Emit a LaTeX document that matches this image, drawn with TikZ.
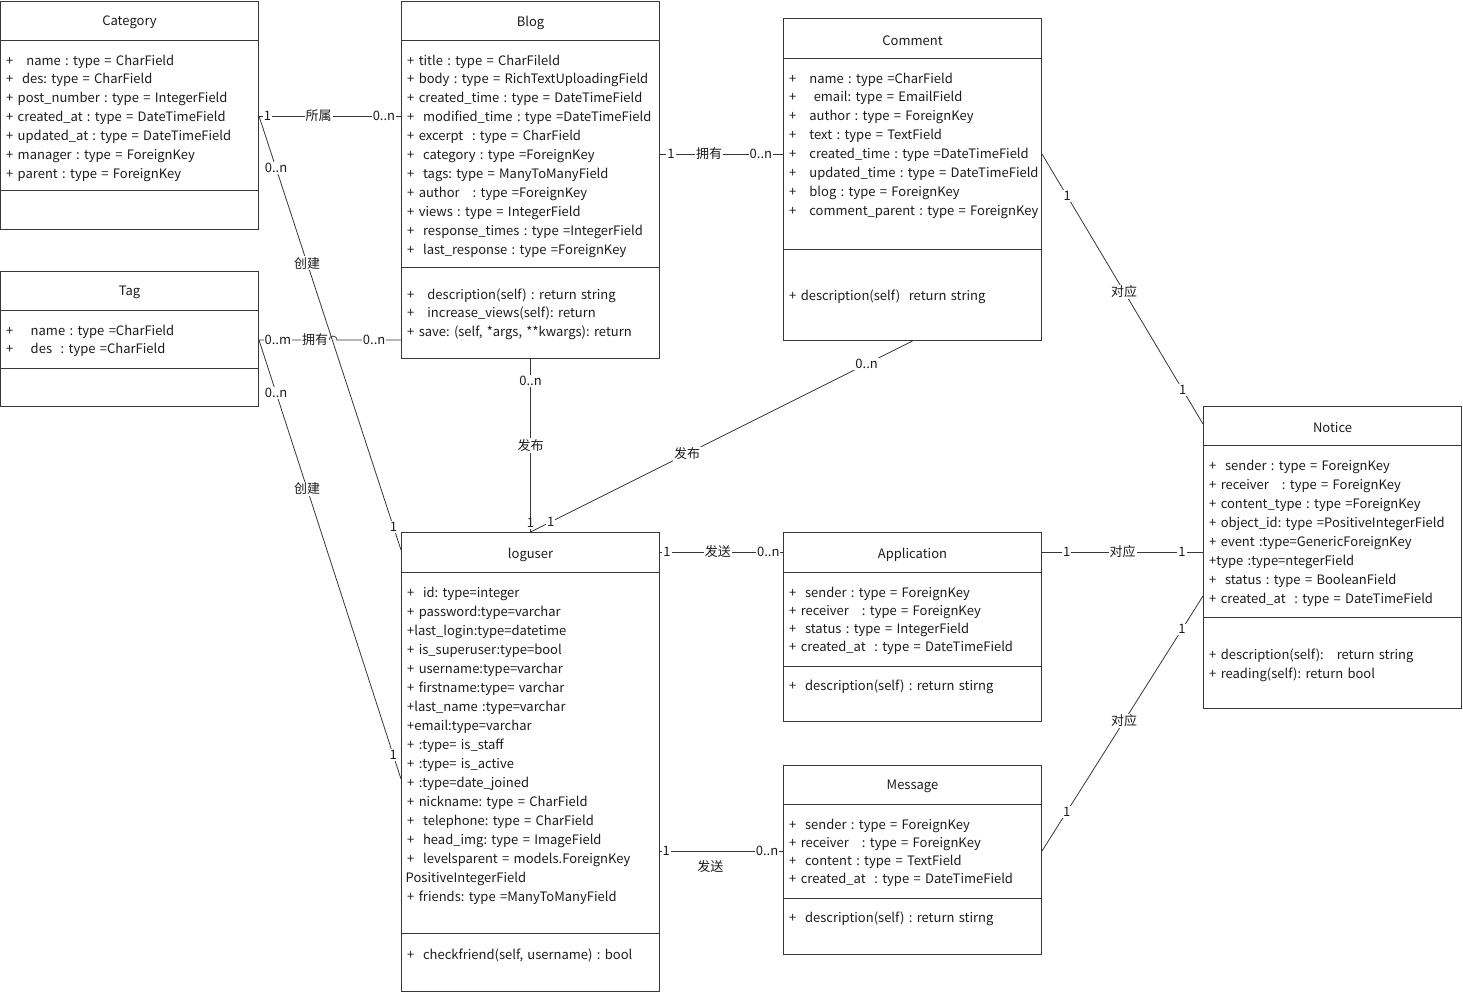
\documentclass[tikz,border=0pt]{standalone}
\usepackage{fontspec}
\setmainfont{Noto Sans CJK SC}
\usetikzlibrary{calc}
\frenchspacing
\definecolor{linegray}{RGB}{55, 55, 55}
\definecolor{textdark}{RGB}{28, 28, 28}
\tikzset{
    classbox/.style={
        draw=linegray,
        line width=1pt,
        minimum width=258pt,
        minimum height=#1,
        anchor=north west,
        inner sep=0pt,
    },
    classname/.style={
        font=\fontsize{13}{15}\selectfont,
        text=textdark,
        yshift=-1.5pt,
    },
    member/.style={
        anchor=base west,
        xshift=6pt,
        align=left,
        text width=300pt,
        inner sep=0pt,
        font=\fontsize{13}{#1}\selectfont,
        text=textdark,
    },
    member/.default=18.9,
    divider/.style={
        draw=linegray,
        line width=1pt,
    },
    rel/.style={
        draw=linegray,
        line width=0.8pt,
    },
    mult/.style={
        fill=white,
        inner sep=1pt,
        font=\fontsize{13}{15}\selectfont,
        text=textdark,
    },
}

\begin{document}
\begin{tikzpicture}[x=1pt, y=-1pt]
\useasboundingbox (0,0) rectangle (1463,993);

% ===== Category =====
\node[classbox=228pt] (cat) at (0,1) {};
\node[classname] (cattitle) at (cat.north |- 0,21) {Category};
\draw[divider] (cat.west |- 0,40) -- (cat.east |- 0,40);
\draw[divider] (cat.west |- 0,190) -- (cat.east |- 0,190);
\node[member] (catattr) at (cat.west |- 0,65) {%
+ \ \ name : type = CharField\\
+ \ des: type = CharField\\
+ post\_number : type = IntegerField\\
+ created\_at : type = DateTimeField\\
+ updated\_at : type = DateTimeField\\
+ manager : type = ForeignKey\\
+ parent : type = ForeignKey};

% ===== Tag =====
\node[classbox=135pt] (tag) at (0,271) {};
\node[classname] (tagtitle) at (tag.north |- 0,291) {Tag};
\draw[divider] (tag.west |- 0,310) -- (tag.east |- 0,310);
\draw[divider] (tag.west |- 0,368) -- (tag.east |- 0,368);
\node[member] (tagattr) at (tag.west |- 0,335) {%
+ \ \ \ name : type =CharField\\
+ \ \ \ des \ : type =CharField};

% ===== Blog =====
\node[classbox=357pt] (blog) at (401,1) {};
\node[classname] (blogtitle) at (blog.north |- 0,21) {Blog};
\draw[divider] (blog.west |- 0,40) -- (blog.east |- 0,40);
\draw[divider] (blog.west |- 0,267) -- (blog.east |- 0,267);
\node[member] (blogattr) at (blog.west |- 0,65) {%
+ title : type = CharFileld\\
+ body : type = RichTextUploadingField\\
+ created\_time : type = DateTimeField\\
+ \ modified\_time : type =DateTimeField\\
+ excerpt \ : type = CharField\\
+ \ category : type =ForeignKey\\
+ \ tags: type = ManyToManyField\\
+ author \ \ : type =ForeignKey\\
+ views : type = IntegerField\\
+ \ response\_times : type =IntegerField\\
+ \ last\_response : type =ForeignKey};
\node[member] (blogop) at (blog.west |- 0,299) {%
+ \ \ description(self) : return string\\
+ \ \ increase\_views(self): return\\
+ save: (self, *args, **kwargs): return};

% ===== Comment =====
\node[classbox=322pt] (com) at (783,18) {};
\node[classname] (comtitle) at (com.north |- 0,39) {Comment};
\draw[divider] (com.west |- 0,58) -- (com.east |- 0,58);
\draw[divider] (com.west |- 0,249) -- (com.east |- 0,249);
\node[member] (comattr) at (com.west |- 0,83) {%
+ \ \ name : type =CharField\\
+ \ \ \ email: type = EmailField\\
+ \ \ author : type = ForeignKey\\
+ \ \ text : type = TextField\\
+ \ \ created\_time : type =DateTimeField\\
+ \ \ updated\_time : type = DateTimeField\\
+ \ \ blog : type = ForeignKey\\
+ \ \ comment\_parent : type = ForeignKey};
\node[member] (comop) at (com.west |- 0,300) {+ description(self) \ return string};

% ===== loguser =====
\node[classbox=459pt] (log) at (401,532) {};
\node[classname] (logtitle) at (log.north |- 0,553) {loguser};
\draw[divider] (log.west |- 0,572) -- (log.east |- 0,572);
\draw[divider] (log.west |- 0,933) -- (log.east |- 0,933);
\node[member=19] (logattr) at (log.west |- 0,597) {%
+ \ id: type=integer\\
+ password:type=varchar\\
+last\_login:type=datetime\\
+ is\_superuser:type=bool\\
+ username:type=varchar\\
+ firstname:type= varchar\\
+last\_name :type=varchar\\
+email:type=varchar\\
+ :type= is\_staff\\
+ :type= is\_active\\
+ :type=date\_joined\\
+ nickname: type = CharField\\
+ \ telephone: type = CharField\\
+ \ head\_img: type = ImageField\\
+ \ levelsparent = models.ForeignKey\\
\hspace*{-1.5pt}PositiveIntegerField\\
+ friends: type =ManyToManyField};
\node[member] (logop) at (log.west |- 0,959) {+ \ checkfriend(self, username) : bool};

% ===== Application =====
\node[classbox=189pt] (app) at (783,532) {};
\node[classname] (apptitle) at (app.north |- 0,553) {Application};
\draw[divider] (app.west |- 0,572) -- (app.east |- 0,572);
\draw[divider] (app.west |- 0,666) -- (app.east |- 0,666);
\node[member=18.3] (appattr) at (app.west |- 0,597) {%
+ \ sender : type = ForeignKey\\
+ receiver \ \ : type = ForeignKey\\
+ \ status : type = IntegerField\\
+ created\_at \ : type = DateTimeField};
\node[member] (appop) at (app.west |- 0,690) {+ \ description(self) : return stirng};

% ===== Message =====
\node[classbox=189pt] (msg) at (783,765) {};
\node[classname] (msgtitle) at (msg.north |- 0,785) {Message};
\draw[divider] (msg.west |- 0,804) -- (msg.east |- 0,804);
\draw[divider] (msg.west |- 0,898) -- (msg.east |- 0,898);
\node[member=18.3] (msgattr) at (msg.west |- 0,829) {%
+ \ sender : type = ForeignKey\\
+ receiver \ \ : type = ForeignKey\\
+ \ content : type = TextField\\
+ created\_at \ : type = DateTimeField};
\node[member] (msgop) at (msg.west |- 0,922) {+ \ description(self) : return stirng};

% ===== Notice =====
\node[classbox=302pt] (note) at (1203,406) {};
\node[classname] (notetitle) at (note.north |- 0,426) {Notice};
\draw[divider] (note.west |- 0,445) -- (note.east |- 0,445);
\draw[divider] (note.west |- 0,617) -- (note.east |- 0,617);
\node[member=19] (noteattr) at (note.west |- 0,470) {%
+ \ sender : type = ForeignKey\\
+ receiver \ \ : type = ForeignKey\\
+ content\_type : type =ForeignKey\\
+ object\_id: type =PositiveIntegerField\\
+ event :type=GenericForeignKey\\
+type :type=ntegerField\\
+ \ status : type = BooleanField\\
+ created\_at \ : type = DateTimeField};
\node[member=19] (noteop) at (note.west |- 0,659) {%
+ description(self): \ \ return string\\
+ reading(self): return bool};

% ===== relations =====
\draw[rel] (cat.east |- 0,116) -- node[mult, pos=.06] {1} node[mult, pos=.42] {所属}
    node[mult, pos=.88] {0..n} (blog.west |- 0,116);
\draw[rel] (cat.east |- 0,116) -- node[mult, pos=.12] {0..n} node[mult, pos=.339] {创建}
    node[mult, pos=.947] {1} (log.west |- 0,550);
\draw[rel] (tag.east |- 0,340) -- node[mult, pos=.27] {0..m} node[mult, pos=.8] {拥有} (329,340)
    arc[start angle=180, end angle=360, radius=4] -- node[mult, pos=.58] {0..n} (blog.west |- 0,340);
\draw[rel] (tag.east |- 0,340) -- node[mult, pos=.121] {0..n} node[mult, pos=.339] {创建}
    node[mult, pos=.945] {1} (log.west |- 0,779);
\draw[rel] (blog.south) -- node[mult, pos=.126] {0..n} node[mult, pos=.5] {发布}
    node[mult, pos=.95] {1} (log.north);
\draw[rel] (com.south) -- node[mult, pos=.12] {0..n} node[mult, pos=.59] {发布}
    node[mult, pos=.947] {1} (log.north);
\draw[rel] (blog.east |- 0,154) -- node[mult, pos=.09] {1} node[mult, pos=.4] {拥有}
    node[mult, pos=.82] {0..n} (com.west |- 0,154);
\draw[rel] (com.east |- 0,154) -- node[mult, pos=.156] {1} node[mult, pos=.51] {对应}
    node[mult, pos=.874] {1} (note.west |- 0,424);
\draw[rel] (log.east |- 0,552) -- node[mult, pos=.056] {1} node[mult, pos=.47] {发送}
    node[mult, pos=.88] {0..n} (app.west |- 0,552);
\draw[rel] (app.east |- 0,552) -- node[mult, pos=.154] {1} node[mult, pos=.5] {对应}
    node[mult, pos=.87] {1} (note.west |- 0,552);
\draw[rel] (log.east |- 0,851) -- node[mult, pos=.05] {1} node[mult, pos=.41, yshift=-16pt] {发送}
    node[mult, pos=.87] {0..n} (msg.west |- 0,851);
\draw[rel] (msg.east |- 0,851) -- node[mult, pos=.153] {1} node[mult, pos=.51] {对应}
    node[mult, pos=.87] {1} (note.west |- 0,596);

\end{tikzpicture}
\end{document}
